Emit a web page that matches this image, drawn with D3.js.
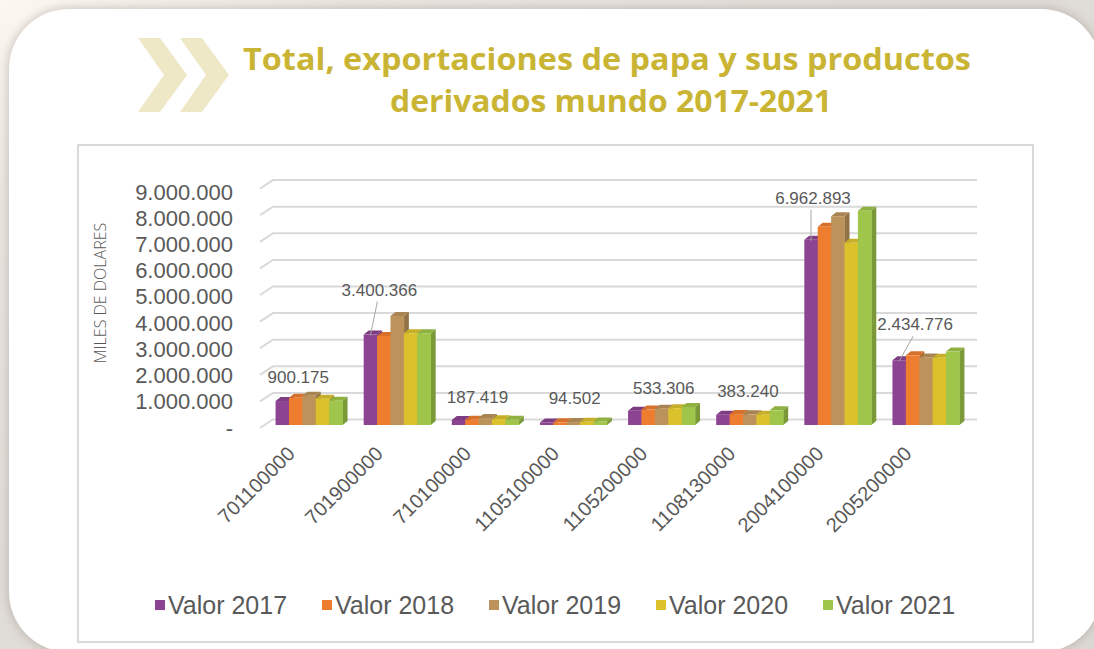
<!DOCTYPE html>
<html>
<head>
<meta charset="utf-8">
<script src="https://cdn.jsdelivr.net/npm/d3@7"></script>
<style>
  html, body { margin: 0; padding: 0; }
  body {
    width: 1094px; height: 649px; overflow: hidden; position: relative;
    background: radial-gradient(ellipse at 0% 0%, #fdf7f1 0%, #ece7e2 22%, #e1ddd8 60%, #dcd8d3 100%);
  }
  #card {
    position: absolute; left: 9px; top: 9px; width: 1092px; height: 643px;
    border-radius: 60px; background: #fff;
    box-shadow: 0 0 9px 2px rgba(140, 130, 120, 0.35);
  }
  #chart { position: absolute; left: 0; top: 0; }
</style>
</head>
<body>
<div id="card"></div>
<div id="chart"></div>
<script>
// categories (product codes) and series
let categories = ['701100000', '701900000', '710100000', '1105100000', '1105200000', '1108130000', '2004100000', '2005200000'];
let seriesNames = ['Valor 2017', 'Valor 2018', 'Valor 2019', 'Valor 2020', 'Valor 2021'];
let valor2017 = [900175, 3400366, 187419, 94502, 533306, 383240, 6962893, 2434776];
let valor2018 = [1020000, 3350000, 200000, 100000, 580000, 410000, 7450000, 2620000];
let valor2019 = [1100000, 4100000, 260000, 110000, 610000, 400000, 7850000, 2540000];
let valor2020 = [990000, 3450000, 220000, 120000, 630000, 390000, 6850000, 2530000];
let valor2021 = [910000, 3450000, 200000, 130000, 680000, 550000, 8050000, 2760000];
let yTicks = [0, 1000000, 2000000, 3000000, 4000000, 5000000, 6000000, 7000000, 8000000, 9000000];
let colors = ['#8c4391', '#ef7d2f', '#bb935b', '#dbc22c', '#9fc54a'];

let allSeries = [valor2017, valor2018, valor2019, valor2020, valor2021];

// where the 2017 data labels sit relative to the top of the 2017 bar (manual excel placement)
let labelShift = [[16, -24], [9, -45], [19, -23], [28, -24], [29, -23], [25, -24], [2, -42], [16, -36]];
let hasLeader = [false, true, false, false, false, false, true, true];

let W = 1094, H = 649;
let labelGrey = '#595959';
let gridGrey = '#d9d9d9';

let locale = d3.formatLocale({ decimal: ',', thousands: '.', grouping: [3], currency: ['$', ''] });
let fmt = locale.format(',');

let svg = d3.select('#chart').append('svg')
            .attr('width', W)
            .attr('height', H);

// chevrons next to the title
let chevron = x => `M${x},38 L${x + 22},38 L${x + 49},75 L${x + 22},112 L${x},112 L${x + 26},75 Z`;
svg.selectAll('path.chev')
   .data([138, 180])
   .enter()
   .append('path')
   .attr('class', 'chev')
   .attr('d', d => chevron(d))
   .style('fill', '#eee8c6');

// title
svg.selectAll('text.title')
   .data([
     { t: 'Total, exportaciones de papa y sus productos', x: 607, y: 70, len: 728 },
     { t: 'derivados mundo 2017-2021', x: 611, y: 112, len: 442 }
   ])
   .enter()
   .append('text')
   .attr('class', 'title')
   .attr('x', d => d.x)
   .attr('y', d => d.y)
   .attr('text-anchor', 'middle')
   .attr('textLength', d => d.len)
   .attr('lengthAdjust', 'spacingAndGlyphs')
   .style('font-family', '"Open Sans", sans-serif')
   .style('font-weight', 700)
   .style('font-size', '30px')
   .style('fill', '#c9b434')
   .text(d => d.t);

// chart frame
svg.append('rect')
   .attr('x', 78).attr('y', 145)
   .attr('width', 955).attr('height', 497)
   .style('fill', '#fff')
   .style('stroke', gridGrey)
   .style('stroke-width', 2);

// scales
let x0 = d3.scaleBand().domain(categories).range([265, 970]).paddingInner(0.24).paddingOuter(0.12);
let x1 = d3.scaleBand().domain(seriesNames).range([0, x0.bandwidth()]);
let y = d3.scaleLinear().domain([0, 9000000]).range([425, 425 - 9 * 26.6]);
let yLab = d3.scaleLinear().domain([0, 9000000]).range([428, 192]);

// 3d gridlines (short floor edge + back wall line)
svg.selectAll('path.grid')
   .data(yTicks)
   .enter()
   .append('path')
   .attr('class', 'grid')
   .attr('d', d => `M260,${y(d) + 3} L273,${y(d) - 5.5} L977,${y(d) - 5.5}`)
   .style('fill', 'none')
   .style('stroke', gridGrey)
   .style('stroke-width', 2);

// y axis labels
let yAxis = svg.append('g')
               .attr('class', 'yaxis')
               .attr('transform', 'translate(233, 0)')
               .call(d3.axisLeft(yLab)
                       .tickValues(yTicks)
                       .tickSize(0)
                       .tickPadding(0)
                       .tickFormat(d => d === 0 ? '-' : fmt(d)));
yAxis.select('.domain').remove();
yAxis.selectAll('text')
     .style('font-family', '"Liberation Sans", Arial, sans-serif')
     .style('font-size', '22px')
     .style('fill', labelGrey);

// y axis title
svg.append('text')
   .attr('transform', 'translate(106, 293) rotate(-90)')
   .attr('text-anchor', 'middle')
   .style('font-family', '"Open Sans", sans-serif')
   .style('font-weight', 300)
   .style('font-size', '16px')
   .style('fill', labelGrey)
   .text('MILES DE DOLARES');

// bars, drawn as 3d boxes
let dx = 5, dy = 4;
let base = y(0);
let rows = [];
categories.forEach((c, i) => {
  seriesNames.forEach((s, j) => {
    rows.push({ cat: c, ser: s, j: j, v: allSeries[j][i] });
  });
});

let bars = svg.selectAll('g.bar')
              .data(rows)
              .enter()
              .append('g')
              .attr('class', 'bar');

bars.append('path')
    .attr('d', d => {
      let x = x0(d.cat) + x1(d.ser), w = x1.bandwidth(), t = y(d.v);
      return `M${x + w},${t} L${x + w + dx},${t - dy} L${x + w + dx},${base - dy} L${x + w},${base} Z`;
    })
    .style('fill', d => d3.color(colors[d.j]).darker(0.7));

bars.append('path')
    .attr('d', d => {
      let x = x0(d.cat) + x1(d.ser), w = x1.bandwidth(), t = y(d.v);
      return `M${x},${t} L${x + dx},${t - dy} L${x + w + dx},${t - dy} L${x + w},${t} Z`;
    })
    .style('fill', d => d3.color(colors[d.j]).darker(0.3));

bars.append('rect')
    .attr('x', d => x0(d.cat) + x1(d.ser))
    .attr('y', d => y(d.v))
    .attr('width', x1.bandwidth() + 0.4)
    .attr('height', d => base - y(d.v))
    .style('fill', d => colors[d.j]);

// data labels for 2017 only
let lab = categories.map((c, i) => {
  let cx = x0(c) + x1(seriesNames[0]) + x1.bandwidth() / 2;
  let top = y(valor2017[i]);
  return { v: valor2017[i], cx: cx, top: top, lx: cx + labelShift[i][0], ly: top + labelShift[i][1], leader: hasLeader[i] };
});

svg.selectAll('line.leader')
   .data(lab.filter(d => d.leader))
   .enter()
   .append('line')
   .attr('class', 'leader')
   .attr('x1', d => d.lx - 2)
   .attr('y1', d => d.ly + 12)
   .attr('x2', d => d.cx)
   .attr('y2', d => d.top + 1)
   .style('stroke', '#a6a6a6')
   .style('stroke-width', 1);

svg.selectAll('text.dlabel')
   .data(lab)
   .enter()
   .append('text')
   .attr('class', 'dlabel')
   .attr('x', d => d.lx)
   .attr('y', d => d.ly)
   .attr('dy', '0.35em')
   .attr('text-anchor', 'middle')
   .style('font-family', '"Liberation Sans", Arial, sans-serif')
   .style('font-size', '17px')
   .style('fill', labelGrey)
   .text(d => fmt(d.v));

// x axis labels, rotated
svg.selectAll('text.xlabel')
   .data(categories)
   .enter()
   .append('text')
   .attr('class', 'xlabel')
   .attr('transform', d => `translate(${x0(d) + x0.bandwidth() / 2 - 18}, 450) rotate(-45)`)
   .attr('text-anchor', 'end')
   .attr('dy', '0.35em')
   .style('font-family', '"Liberation Sans", Arial, sans-serif')
   .style('font-size', '20px')
   .style('fill', labelGrey)
   .text(d => d);

// legend
let legend = svg.selectAll('g.legend')
                .data(seriesNames)
                .enter()
                .append('g')
                .attr('class', 'legend')
                .attr('transform', (d, i) => `translate(${155 + i * 167}, 605)`);
legend.append('rect')
      .attr('x', 0).attr('y', -5)
      .attr('width', 10).attr('height', 10)
      .style('fill', (d, i) => colors[i]);
legend.append('text')
      .attr('x', 13)
      .attr('dy', '0.36em')
      .style('font-family', '"Liberation Sans", Arial, sans-serif')
      .style('font-size', '25px')
      .style('fill', labelGrey)
      .text(d => d);
</script>
</body>
</html>
